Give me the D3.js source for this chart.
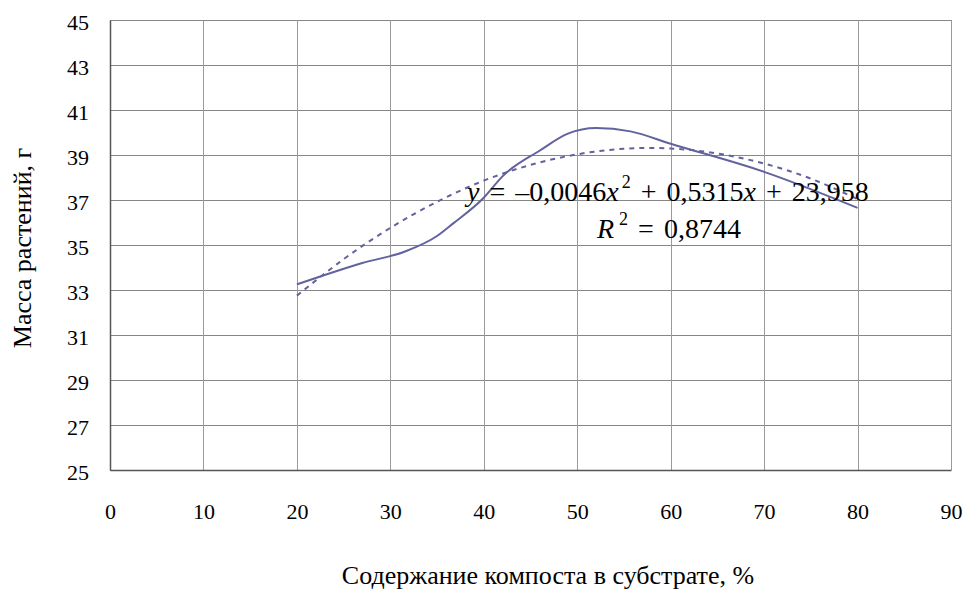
<!DOCTYPE html>
<html>
<head>
<meta charset="utf-8">
<script src="https://cdn.jsdelivr.net/npm/d3@7"></script>
<style>
    body { margin: 0; background: #fff; }
</style>
</head>
<body>
<svg id="chart" width="967" height="589"></svg>
<script>
// Measured curve (smoothed line), compost % vs plant mass
const compostX = [20, 22.5, 27, 31.5, 35, 36.7, 40, 42, 46, 49, 52, 55.7, 60, 70, 80];
const massY = [33.25, 33.6, 34.2, 34.7, 35.4, 35.95, 37.1, 38.05, 39.2, 39.95, 40.2, 40.05, 39.5, 38.25, 36.65];

// Polynomial trendline
const trendX = [20, 25, 30, 35, 40, 45, 50, 55, 60, 65, 70, 75, 80];
const trendY = [32.75, 34.37, 35.76, 36.92, 37.86, 38.56, 39.03, 39.28, 39.29, 39.07, 38.62, 37.95, 37.04];

const xTicks = [0, 10, 20, 30, 40, 50, 60, 70, 80, 90];
const yTicks = [25, 27, 29, 31, 33, 35, 37, 39, 41, 43, 45];

const xTitle = "Содержание компоста в субстрате, %";
const yTitle = "Масса растений, г";

const serif = '"Liberation Serif", "Times New Roman", "DejaVu Serif", serif';
const margin = { left: 110, top: 20 };
const plotW = 841, plotH = 450;
const lineColor = "#62629e";

const svg = d3.select("#chart").attr("font-family", serif);
const g = svg.append("g").attr("transform", `translate(${margin.left},${margin.top})`);

const x = d3.scaleLinear().domain([0, 90]).range([0, plotW]);
const y = d3.scaleLinear().domain([25, 45]).range([plotH, 0]);

// grid
g.append("g")
    .selectAll("line")
    .data(yTicks)
    .join("line")
    .attr("x1", 0).attr("x2", plotW)
    .attr("y1", d => Math.round(y(d)) + 0.5).attr("y2", d => Math.round(y(d)) + 0.5)
    .attr("stroke", "#868686");

g.append("g")
    .selectAll("line")
    .data(xTicks)
    .join("line")
    .attr("x1", d => Math.round(x(d)) + 0.5).attr("x2", d => Math.round(x(d)) + 0.5)
    .attr("y1", 0).attr("y2", plotH)
    .attr("stroke", "#9a9a9a");

// axes (no tick marks, just labels)
const xAxis = g.append("g")
    .attr("transform", `translate(0,${plotH})`)
    .call(d3.axisBottom(x).tickValues(xTicks).tickSize(0).tickPadding(33));
xAxis.attr("font-family", serif).attr("font-size", 22);
xAxis.select(".domain").attr("stroke", "#555").attr("stroke-width", 1.5);
xAxis.selectAll("text").attr("fill", "#000");

const yAxis = g.append("g")
    .call(d3.axisLeft(y).tickValues(yTicks).tickSize(0).tickPadding(21));
yAxis.attr("font-family", serif).attr("font-size", 22);
yAxis.select(".domain").attr("stroke", "#555").attr("stroke-width", 1.5);
yAxis.selectAll("text").attr("fill", "#000").attr("dy", "0.45em");

// axis titles
svg.append("text")
    .attr("x", 548)
    .attr("y", 584)
    .attr("text-anchor", "middle")
    .attr("font-size", 26)
    .text(xTitle);

svg.append("text")
    .attr("transform", `translate(31,248)rotate(-90)`)
    .attr("text-anchor", "middle")
    .attr("font-size", 26)
    .text(yTitle);

// trendline (dotted)
const trendLine = d3.line()
    .x((d, i) => x(trendX[i]))
    .y(d => y(d))
    .curve(d3.curveNatural);

g.append("path")
    .datum(trendY)
    .attr("fill", "none")
    .attr("stroke", lineColor)
    .attr("stroke-width", 2)
    .attr("stroke-dasharray", "5,5")
    .attr("d", trendLine);

// measured line
const massLine = d3.line()
    .x((d, i) => x(compostX[i]))
    .y(d => y(d))
    .curve(d3.curveMonotoneX);

g.append("path")
    .datum(massY)
    .attr("fill", "none")
    .attr("stroke", lineColor)
    .attr("stroke-width", 2)
    .attr("d", massLine);

// equation label
const eq = svg.append("text")
    .attr("x", 467)
    .attr("y", 201)
    .attr("font-size", 28)
    .attr("word-spacing", 3);
eq.append("tspan").attr("font-style", "italic").text("y");
eq.append("tspan").text(" = –0,0046");
eq.append("tspan").attr("font-style", "italic").text("x");
eq.append("tspan").attr("dx", 3).attr("dy", -13).attr("font-size", 18).text("2");
eq.append("tspan").attr("dy", 13).text(" + 0,5315");
eq.append("tspan").attr("font-style", "italic").text("x");
eq.append("tspan").text(" + 23,958");

const r2 = svg.append("text")
    .attr("x", 597)
    .attr("y", 238)
    .attr("font-size", 28)
    .attr("word-spacing", 3);
r2.append("tspan").attr("font-style", "italic").text("R");
r2.append("tspan").attr("dx", 5).attr("dy", -13).attr("font-size", 18).text("2");
r2.append("tspan").attr("dy", 13).text(" = 0,8744");
</script>
</body>
</html>
